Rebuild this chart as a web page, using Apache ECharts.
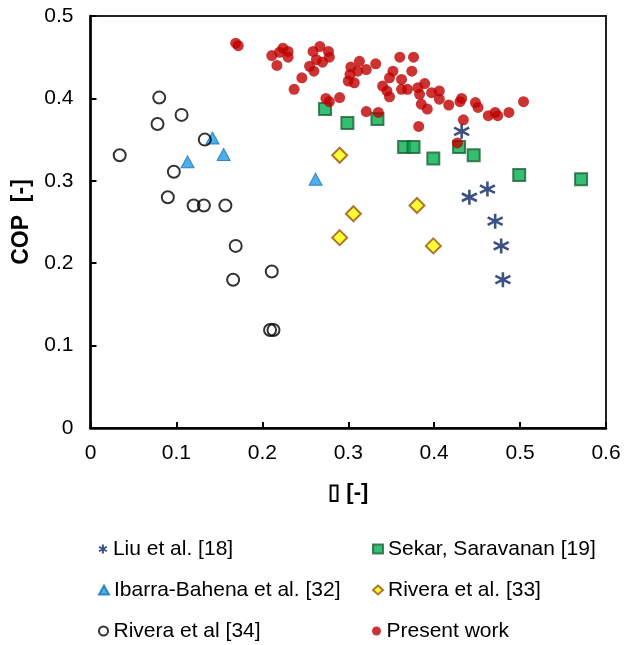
<!DOCTYPE html>
<html>
<head>
<meta charset="utf-8">
<script src="https://cdn.jsdelivr.net/npm/echarts@6/dist/echarts.min.js"></script>
<style>
  html, body { margin: 0; padding: 0; background: #fff; }
  #chart { width: 624px; height: 645px; }
</style>
</head>
<body>
<div id="chart"></div>
<script>
// Axis ticks
const xTicks = [0, 0.1, 0.2, 0.3, 0.4, 0.5, 0.6];
const yTicks = [0, 0.1, 0.2, 0.3, 0.4, 0.5];

// Series names
const seriesNames = [
  'Liu et al. [18]',
  'Sekar, Saravanan [19]',
  'Ibarra-Bahena et al. [32]',
  'Rivera et al. [33]',
  'Rivera et al [34]',
  'Present work'
];

// [x, COP] pairs for each data set
const liu = [
  [0.432, 0.360], [0.441, 0.280], [0.462, 0.290],
  [0.471, 0.251], [0.478, 0.221], [0.480, 0.180]
];
const sekar = [
  [0.273, 0.387], [0.299, 0.370], [0.334, 0.375], [0.365, 0.341],
  [0.376, 0.341], [0.399, 0.327], [0.429, 0.341], [0.446, 0.331],
  [0.499, 0.307], [0.571, 0.302]
];
const ibarra = [
  [0.142, 0.352], [0.155, 0.332], [0.113, 0.323], [0.262, 0.302]
];
const rivera33 = [
  [0.290, 0.331], [0.306, 0.260], [0.290, 0.231], [0.380, 0.270], [0.399, 0.221]
];
const rivera34 = [
  [0.080, 0.401], [0.078, 0.369], [0.106, 0.380], [0.034, 0.331],
  [0.133, 0.350], [0.097, 0.311], [0.090, 0.280], [0.120, 0.270],
  [0.132, 0.270], [0.157, 0.270], [0.169, 0.221], [0.166, 0.180],
  [0.211, 0.190], [0.209, 0.119], [0.213, 0.119]
];
const present = [
  [0.169, 0.467], [0.172, 0.464], [0.211, 0.452], [0.217, 0.440],
  [0.220, 0.456], [0.224, 0.461], [0.230, 0.457], [0.230, 0.450],
  [0.246, 0.425], [0.237, 0.411], [0.259, 0.457], [0.267, 0.463],
  [0.277, 0.457], [0.263, 0.447], [0.270, 0.444], [0.278, 0.450],
  [0.255, 0.439], [0.260, 0.433], [0.274, 0.400], [0.278, 0.396],
  [0.290, 0.401], [0.303, 0.438], [0.302, 0.429], [0.300, 0.421],
  [0.307, 0.419], [0.313, 0.445], [0.321, 0.435], [0.332, 0.442],
  [0.311, 0.433], [0.360, 0.450], [0.376, 0.450], [0.374, 0.433],
  [0.352, 0.433], [0.348, 0.425], [0.340, 0.415], [0.345, 0.409],
  [0.348, 0.402], [0.362, 0.423], [0.362, 0.411], [0.369, 0.411],
  [0.381, 0.413], [0.389, 0.418], [0.383, 0.405], [0.385, 0.393],
  [0.392, 0.387], [0.397, 0.407], [0.406, 0.409], [0.406, 0.399],
  [0.417, 0.392], [0.430, 0.396], [0.432, 0.400], [0.321, 0.384],
  [0.335, 0.383], [0.434, 0.374], [0.382, 0.366], [0.448, 0.395],
  [0.451, 0.389], [0.463, 0.379], [0.471, 0.383], [0.474, 0.379],
  [0.487, 0.383], [0.504, 0.396], [0.427, 0.346]
];

const FONT = 'Liberation Sans, Arial, sans-serif';
const asterisk = 'path://M0,-10L0,10M-8.66,-5L8.66,5M-8.66,5L8.66,-5';

const chart = echarts.init(document.getElementById('chart'), null, { renderer: 'canvas' });

const legendText = { fontFamily: FONT, fontSize: 21, lineHeight: 22, color: '#000' };

// Two-column legend: one single-entry legend per slot
const legendCols = [98, 372];
const legendRows = [538, 579, 620];
const legendSlots = [
  [0, 0], [1, 0], // row 0: Liu | Sekar
  [0, 1], [1, 1], // row 1: Ibarra-Bahena | Rivera [33]
  [0, 2], [1, 2]  // row 2: Rivera [34] | Present work
];
const legends = seriesNames.map((name, k) => ({
  orient: 'horizontal',
  left: legendCols[legendSlots[k][0]],
  top: legendRows[legendSlots[k][1]],
  itemWidth: 10, itemHeight: 9, padding: 0,
  textStyle: legendText,
  data: [name]
}));

chart.setOption({
  backgroundColor: '#fff',
  animation: false,
  grid: {
    left: 90.5, right: 18, top: 16, bottom: 217,
    show: true, borderColor: '#222', borderWidth: 2
  },
  xAxis: {
    type: 'value', min: 0, max: 0.6, interval: 0.1,
    name: '\u25AF [-]', nameLocation: 'middle', nameGap: 54,
    nameTextStyle: { fontFamily: FONT, fontSize: 22, fontWeight: 'bold', color: '#000' },
    axisLine: { show: true, onZero: false, lineStyle: { color: '#000', width: 2.5 } },
    axisTick: { show: true, inside: true, length: 6, lineStyle: { color: '#000', width: 2 } },
    axisLabel: {
      margin: 15, fontFamily: FONT, fontSize: 21, color: '#000',
      formatter: v => xTicks.includes(+v.toFixed(1)) ? String(+v.toFixed(1)) : ''
    },
    splitLine: { show: false }
  },
  yAxis: {
    type: 'value', min: 0, max: 0.5, interval: 0.1,
    name: 'COP  [-]', nameLocation: 'middle', nameGap: 55, nameRotate: 90,
    nameTextStyle: { fontFamily: FONT, fontSize: 23, fontWeight: 'bold', color: '#000' },
    axisLine: { show: true, onZero: false, lineStyle: { color: '#000', width: 2.5 } },
    axisTick: { show: true, inside: true, length: 6, lineStyle: { color: '#000', width: 2 } },
    axisLabel: {
      margin: 17, fontFamily: FONT, fontSize: 21, color: '#000',
      formatter: v => yTicks.includes(+v.toFixed(1)) ? String(+v.toFixed(1)) : ''
    },
    splitLine: { show: false }
  },
  legend: legends,
  series: [
    {
      name: seriesNames[0], type: 'scatter', data: liu,
      symbol: asterisk, symbolSize: 15,
      itemStyle: { color: 'rgba(0,0,0,0)', borderColor: '#0B2564', borderWidth: 2.6 }
    },
    {
      name: seriesNames[1], type: 'scatter', data: sekar,
      symbol: 'rect', symbolSize: 12,
      itemStyle: { color: '#00B050', borderColor: '#1E6234', borderWidth: 2 }
    },
    {
      name: seriesNames[2], type: 'scatter', data: ibarra,
      symbol: 'triangle', symbolSize: [13, 12],
      itemStyle: { color: '#1E9BE6', borderColor: '#1A6FB5', borderWidth: 1 }
    },
    {
      name: seriesNames[3], type: 'scatter', data: rivera33,
      symbol: 'diamond', symbolSize: 15,
      itemStyle: { color: '#FFFF00', borderColor: '#9A5410', borderWidth: 2 }
    },
    {
      name: seriesNames[4], type: 'scatter', data: rivera34,
      symbol: 'circle', symbolSize: 12,
      itemStyle: { color: 'rgba(255,255,255,0)', borderColor: '#000', borderWidth: 2 }
    },
    {
      name: seriesNames[5], type: 'scatter', data: present,
      symbol: 'circle', symbolSize: 11,
      itemStyle: { color: '#BF0000' }
    }
  ]
});
</script>
</body>
</html>
